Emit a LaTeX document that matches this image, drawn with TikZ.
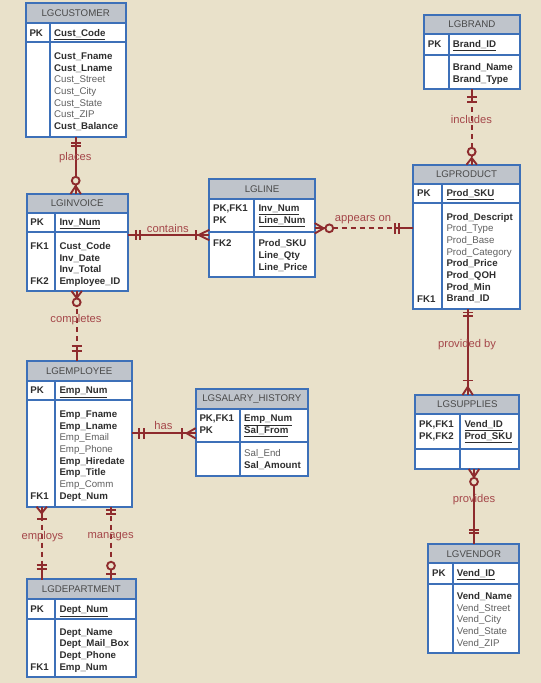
\documentclass[tikz,border=0pt]{standalone}
\usepackage{fontspec}
\newfontfamily\arialf{Liberation Sans}
\definecolor{bgc}{HTML}{E9E1CA}
\definecolor{hdrc}{HTML}{BFC4CB}
\definecolor{bluec}{HTML}{3D70B8}
\definecolor{relc}{HTML}{8E2B2D}
\definecolor{labc}{HTML}{A5474A}
\definecolor{txtdark}{HTML}{2E2E2E}
\definecolor{txtgray}{HTML}{606060}
\definecolor{txthdr}{HTML}{4A4A4A}
\newcommand\attB[1]{{\bfseries\color{txtdark}#1}}
\newcommand\attR[1]{{\color{txtgray}#1}}
\newcommand\attU[1]{{\bfseries\color{txtdark}\underline{#1}}}
\tikzset{
  ebody/.style={fill=white,draw=none,inner sep=0pt,outer sep=0pt},
  hdrfill/.style={fill=hdrc},
  eline/.style={draw=bluec,line width=1.8pt},
  htext/.style={font=\arialf\fontsize{9.7}{11.67}\selectfont,text=txthdr,inner sep=0pt},
  rtext/.style={font=\arialf\fontsize{9.7}{11.67}\selectfont,inner sep=0pt},
  rel/.style={draw=relc,line width=2.2pt},
  reldash/.style={rel,dash pattern=on 5pt off 4pt},
  rlab/.style={font=\arialf\fontsize{11.2}{13}\selectfont,text=labc,inner sep=0pt},
  mk/.style={draw=relc,line width=1.9pt},
  pics/mone/.style 2 args={code={
    \draw[rel] (0,0)--(#2,0);
    \draw[mk] (#1,-5.2)--(#1,5.2) (#2,-5.2)--(#2,5.2);}},
  pics/zmany/.style 2 args={code={
    \draw[rel] (0,0)--(#1,0);
    \draw[mk] (0,-5.2)--(#1,0)--(0,5.2);
    \draw[mk,fill=bgc] (#2,0) circle (3.9);}},
  pics/omany/.style 2 args={code={
    \draw[rel] (0,0)--(#2,0);
    \draw[mk] (0,-5.2)--(#1,0)--(0,5.2);
    \draw[mk] (#2,-5.2)--(#2,5.2);}},
  pics/zone/.style 2 args={code={
    \draw[rel] (0,0)--(#1,0);
    \draw[mk] (#1,-5.2)--(#1,5.2);
    \draw[mk,fill=bgc] (#2,0) circle (3.9);}},
}
% name, x1, x2, xdiv, ytop, yhead, ypk, ybot, header
\newcommand\entity[9]{%
  \node[ebody,minimum width={(#3-#2)*1pt},minimum height={(#8-#5)*1pt},anchor=north west] (#1) at (#2,#5) {};
  \fill[hdrfill] (#2,#5) rectangle (#3,#6);
  \draw[eline] (#2,#6) -- (#3,#6) (#2,#7) -- (#3,#7) (#4,#6) -- (#4,#8);
  \draw[eline] (#2,#5) rectangle (#3,#8);
  \node[htext] (#1-h) at ({(#2+#3)/2},{(#5+#6)/2}) {#9};
}
% prefix, x, first centre y, list
\newcommand\attrs[4]{%
  \foreach \t [count=\i] in {#4} {\node[rtext,anchor=base west] (#1-\i) at (#2,#3+3.5+\i*11.67-11.67) {\t};}
}
\newcommand\cell[4]{\node[rtext,anchor=base west] (#1) at (#2,#3+3.5) {#4};}
\begin{document}
\begin{tikzpicture}[x=1pt,y=-1pt]
\fill[bgc] (0,0) rectangle (541,683);
\useasboundingbox (0,0) rectangle (541,683);

% ---------- entities ----------
\entity{cust}{25.7}{125.7}{50}{3.3}{23.3}{42.3}{136.7}{LGCUSTOMER}
\cell{cust-pk}{29.3}{32.7}{\attB{PK}}
\cell{cust-pka}{54}{32.7}{\attU{Cust\_Code}}
\attrs{cust-a}{54}{56}{\attB{Cust\_Fname},\attB{Cust\_Lname},\attR{Cust\_Street},\attR{Cust\_City},\attR{Cust\_State},\attR{Cust\_ZIP},\attB{Cust\_Balance}}

\entity{inv}{26.7}{127.7}{55.3}{194}{212.7}{232.3}{291}{LGINVOICE}
\cell{inv-pk}{30.3}{222.3}{\attB{PK}}
\cell{inv-pka}{59.3}{222.3}{\attU{Inv\_Num}}
\attrs{inv-a}{59.3}{246}{\attB{Cust\_Code},\attB{Inv\_Date},\attB{Inv\_Total},\attB{Employee\_ID}}
\cell{inv-fk1}{30.3}{246}{\attB{FK1}}
\cell{inv-fk2}{30.3}{281}{\attB{FK2}}

\entity{lgline}{209.3}{314.7}{254.3}{179.3}{198.7}{231.7}{277}{LGLINE}
\cell{line-pk1}{213}{208.3}{\attB{PK,FK1}}
\cell{line-pk2}{213}{220}{\attB{PK}}
\cell{line-pka1}{258.3}{208.3}{\attU{Inv\_Num}}
\cell{line-pka2}{258.3}{220}{\attU{Line\_Num}}
\cell{line-fk2}{213}{243.3}{\attB{FK2}}
\attrs{line-a}{258.3}{243.3}{\attB{Prod\_SKU},\attB{Line\_Qty},\attB{Line\_Price}}

\entity{brand}{424}{519.7}{448.7}{15}{34.3}{55}{89.3}{LGBRAND}
\cell{brand-pk}{427.6}{44}{\attB{PK}}
\cell{brand-pka}{452.7}{44}{\attU{Brand\_ID}}
\attrs{brand-a}{452.7}{67.3}{\attB{Brand\_Name},\attB{Brand\_Type}}

\entity{prod}{413.3}{519.7}{442.3}{164.7}{184.3}{203.3}{309.3}{LGPRODUCT}
\cell{prod-pk}{417}{193.3}{\attB{PK}}
\cell{prod-pka}{446.3}{193.3}{\attU{Prod\_SKU}}
\attrs{prod-a}{446.3}{216.7}{\attB{Prod\_Descript},\attR{Prod\_Type},\attR{Prod\_Base},\attR{Prod\_Category},\attB{Prod\_Price},\attB{Prod\_QOH},\attB{Prod\_Min},\attB{Brand\_ID}}
\cell{prod-fk1}{417}{298.7}{\attB{FK1}}

\entity{emp}{26.7}{131.7}{55.3}{361}{381}{400}{506.7}{LGEMPLOYEE}
\cell{emp-pk}{30.3}{390.3}{\attB{PK}}
\cell{emp-pka}{59.3}{390.3}{\attU{Emp\_Num}}
\attrs{emp-a}{59.3}{414}{\attB{Emp\_Fname},\attB{Emp\_Lname},\attR{Emp\_Email},\attR{Emp\_Phone},\attB{Emp\_Hiredate},\attB{Emp\_Title},\attR{Emp\_Comm},\attB{Dept\_Num}}
\cell{emp-fk1}{30.3}{495.7}{\attB{FK1}}

\entity{sal}{195.7}{308}{240}{389.3}{409}{442.3}{475.7}{LGSALARY\_HISTORY}
\cell{sal-pk1}{199.3}{418.3}{\attB{PK,FK1}}
\cell{sal-pk2}{199.3}{430}{\attB{PK}}
\cell{sal-pka1}{244}{418.3}{\attU{Emp\_Num}}
\cell{sal-pka2}{244}{430}{\attU{Sal\_From}}
\attrs{sal-a}{244}{453.3}{\attR{Sal\_End},\attB{Sal\_Amount}}

\entity{dept}{26.7}{136}{55.3}{579.3}{599}{619}{677.3}{LGDEPARTMENT}
\cell{dept-pk}{30.3}{609}{\attB{PK}}
\cell{dept-pka}{59.3}{609}{\attU{Dept\_Num}}
\attrs{dept-a}{59.3}{631.7}{\attB{Dept\_Name},\attB{Dept\_Mail\_Box},\attB{Dept\_Phone},\attB{Emp\_Num}}
\cell{dept-fk1}{30.3}{667}{\attB{FK1}}

\entity{sup}{415.3}{519.3}{460.3}{395}{414}{449}{469}{LGSUPPLIES}
\cell{sup-pk1}{419}{424}{\attB{PK,FK1}}
\cell{sup-pk2}{419}{435.7}{\attB{PK,FK2}}
\cell{sup-pka1}{464.3}{424}{\attU{Vend\_ID}}
\cell{sup-pka2}{464.3}{435.7}{\attU{Prod\_SKU}}

\entity{vend}{428.3}{519.3}{452.7}{544.3}{563.3}{583.7}{653.3}{LGVENDOR}
\cell{vend-pk}{432}{573.3}{\attB{PK}}
\cell{vend-pka}{456.7}{573.3}{\attU{Vend\_ID}}
\attrs{vend-a}{456.7}{596}{\attB{Vend\_Name},\attR{Vend\_Street},\attR{Vend\_City},\attR{Vend\_State},\attR{Vend\_ZIP}}

% ---------- relationships ----------
% places
\draw[rel] (cust.south -| 75.7,0) -- (inv.north -| 75.7,0);
\pic[rotate=-90] at (cust.south -| 75.7,0) {mone={6.3}{9.5}};
\pic[rotate=90] at (inv.north -| 75.7,0) {zmany={8}{13.3}};
% contains
\draw[rel] (inv.east |- 0,235) -- (lgline.west |- 0,235);
\pic at (inv.east |- 0,235) {mone={8}{12}};
\pic[rotate=180] at (lgline.west |- 0,235) {omany={10.5}{13.5}};
% appears on
\draw[reldash] (lgline.east |- 0,228.3) -- (prod.west |- 0,228.3);
\pic at (lgline.east |- 0,228.3) {zmany={9}{14.6}};
\pic[rotate=180] at (prod.west |- 0,228.3) {mone={14.3}{18.3}};
% includes
\draw[reldash] (brand.south -| 471.7,0) -- (prod.north -| 471.7,0);
\pic[rotate=-90] at (brand.south -| 471.7,0) {mone={7.4}{12.4}};
\pic[rotate=90] at (prod.north -| 471.7,0) {zmany={6.7}{13}};
% provided by
\draw[rel] (prod.south -| 467.7,0) -- (sup.north -| 467.7,0);
\pic[rotate=-90] at (prod.south -| 467.7,0) {mone={3.2}{6.7}};
\pic[rotate=90] at (sup.north -| 467.7,0) {omany={8}{14.5}};
% provides
\draw[rel] (sup.south -| 474,0) -- (vend.north -| 474,0);
\pic[rotate=-90] at (sup.south -| 474,0) {zmany={8}{12.7}};
\pic[rotate=90] at (vend.north -| 474,0) {mone={11}{14.3}};
% completes
\draw[reldash] (inv.south -| 76.7,0) -- (emp.north -| 76.7,0);
\pic[rotate=-90] at (inv.south -| 76.7,0) {zmany={7}{11.3}};
\pic[rotate=90] at (emp.north -| 76.7,0) {mone={10.3}{15.3}};
% has
\draw[rel] (emp.east |- 0,433.3) -- (sal.west |- 0,433.3);
\pic at (emp.east |- 0,433.3) {mone={7.3}{12.3}};
\pic[rotate=180] at (sal.west |- 0,433.3) {omany={9}{14}};
% employs
\draw[reldash] (emp.south -| 41.7,0) -- (dept.north -| 41.7,0);
\pic[rotate=-90] at (emp.south -| 41.7,0) {omany={6.5}{12}};
\pic[rotate=90] at (dept.north -| 41.7,0) {mone={10.3}{14.3}};
% manages
\draw[reldash] (emp.south -| 111,0) -- (dept.north -| 111,0);
\pic[rotate=-90] at (emp.south -| 111,0) {mone={3.3}{7.6}};
\pic[rotate=90] at (dept.north -| 111,0) {zone={5.6}{13.6}};

% ---------- labels ----------
\node[rlab] (l-places) at (75.3,157.3) {places};
\node[rlab] (l-contains) at (167.8,228.5) {contains};
\node[rlab] (l-appears) at (363,220) {appears on};
\node[rlab] (l-includes) at (471.5,119.3) {includes};
\node[rlab] (l-provby) at (467,345) {provided by};
\node[rlab] (l-provides) at (474,499.3) {provides};
\node[rlab] (l-completes) at (76,319.3) {completes};
\node[rlab] (l-has) at (163.5,425.5) {has};
\node[rlab] (l-employs) at (42.5,537) {employs};
\node[rlab] (l-manages) at (110.7,536.7) {manages};
\end{tikzpicture}
\end{document}
